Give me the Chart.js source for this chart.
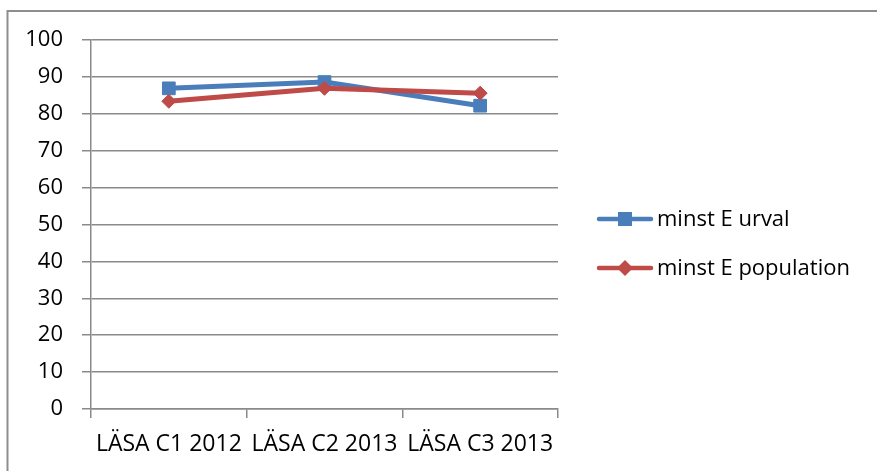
<!DOCTYPE html>
<html><head><meta charset="utf-8">
<script src="https://cdn.jsdelivr.net/npm/chart.js@4/dist/chart.umd.min.js"></script>
<style>html,body{margin:0;padding:0;background:#fff}#wrap{width:877px;height:471px;position:relative}</style>
</head><body><div id="wrap"><canvas id="c"></canvas></div>
<script>
const categories = ['LÄSA C1 2012', 'LÄSA C2 2013', 'LÄSA C3 2013'];
const seriesNames = ['minst E urval', 'minst E population'];
const urvalValues = [86.9, 88.6, 82.2];
const populationValues = [83.4, 86.9, 85.6];
const yMin = 0, yMax = 100, yStep = 10;

const BLUE = '#4a7ebb', RED = '#be4b48', GRID = '#8a8a8a';

const frame = {
  id: 'frame',
  beforeDraw(chart) {
    const ctx = chart.ctx;
    ctx.save();
    ctx.strokeStyle = '#8e8e8e'; ctx.lineWidth = 2;
    ctx.strokeRect(7.5, 11, 1000, 1000);
    ctx.restore();
  }
};

// legend drawn beside the plot: line + marker symbol, then the series label
const sideLegend = {
  id: 'sideLegend',
  afterDraw(chart) {
    const ctx = chart.ctx;
    const x0 = chart.chartArea.right + 39, w = 56, gap = 4;
    const yCenters = [219, 268];
    ctx.save();
    chart.data.datasets.forEach((ds, i) => {
      const y = yCenters[i];
      ctx.strokeStyle = ds.borderColor; ctx.fillStyle = ds.borderColor;
      ctx.lineWidth = 4.5; ctx.lineCap = 'round';
      ctx.beginPath(); ctx.moveTo(x0 + 2, y); ctx.lineTo(x0 + w - 2, y); ctx.stroke();
      const cx = x0 + w / 2;
      if (ds.pointStyle === 'rect') {
        ctx.fillRect(cx - 7, y - 7, 14, 14);
      } else {
        ctx.beginPath(); ctx.moveTo(cx, y - 8); ctx.lineTo(cx + 8, y); ctx.lineTo(cx, y + 8); ctx.lineTo(cx - 8, y); ctx.closePath(); ctx.fill();
      }
      ctx.fillStyle = '#000';
      ctx.font = "22px 'Open Sans', sans-serif";
      ctx.textBaseline = 'middle'; ctx.textAlign = 'left';
      ctx.fillText(ds.label, x0 + w + gap, y + 1);
    });
    ctx.restore();
  }
};

Chart.defaults.font.family = "'Open Sans', sans-serif";
Chart.defaults.font.size = 22;
Chart.defaults.color = '#000';

new Chart(document.getElementById('c'), {
  type: 'line',
  data: {
    labels: categories,
    datasets: [
      { label: seriesNames[0], data: urvalValues, borderColor: BLUE, backgroundColor: BLUE,
        borderWidth: 5, pointStyle: 'rect', pointRadius: 9, pointBorderWidth: 1, order: 1,
        borderCapStyle: 'round', borderJoinStyle: 'round' },
      { label: seriesNames[1], data: populationValues, borderColor: RED, backgroundColor: RED,
        borderWidth: 5, pointStyle: 'rectRot', pointRadius: 7, pointBorderWidth: 1, order: 0,
        borderCapStyle: 'round', borderJoinStyle: 'round' }
    ]
  },
  options: {
    responsive: true, maintainAspectRatio: false, animation: false,
    layout: { padding: { top: 40, left: 0, right: 319, bottom: 0 } },
    plugins: {
      tooltip: { enabled: false },
      legend: { display: false }
    },
    scales: {
      x: {
        offset: true,
        grid: { drawOnChartArea: false, offset: true, drawTicks: true, tickLength: 9, color: GRID, lineWidth: 1.5 },
        border: { display: true, color: GRID, width: 1.5 },
        ticks: { padding: 13, maxRotation: 0, autoSkip: false, font: { size: 23 } },
        afterFit: (s) => { s.height = 62; }
      },
      y: {
        min: yMin, max: yMax,
        ticks: { stepSize: yStep, padding: 19, font: { size: 22 } },
        grid: { color: GRID, lineWidth: 1.5, tickLength: 9 },
        border: { display: true, color: GRID, width: 1.5 },
        afterFit: (s) => { s.width = 91; }
      }
    }
  },
  plugins: [frame, sideLegend]
});
</script></body></html>
